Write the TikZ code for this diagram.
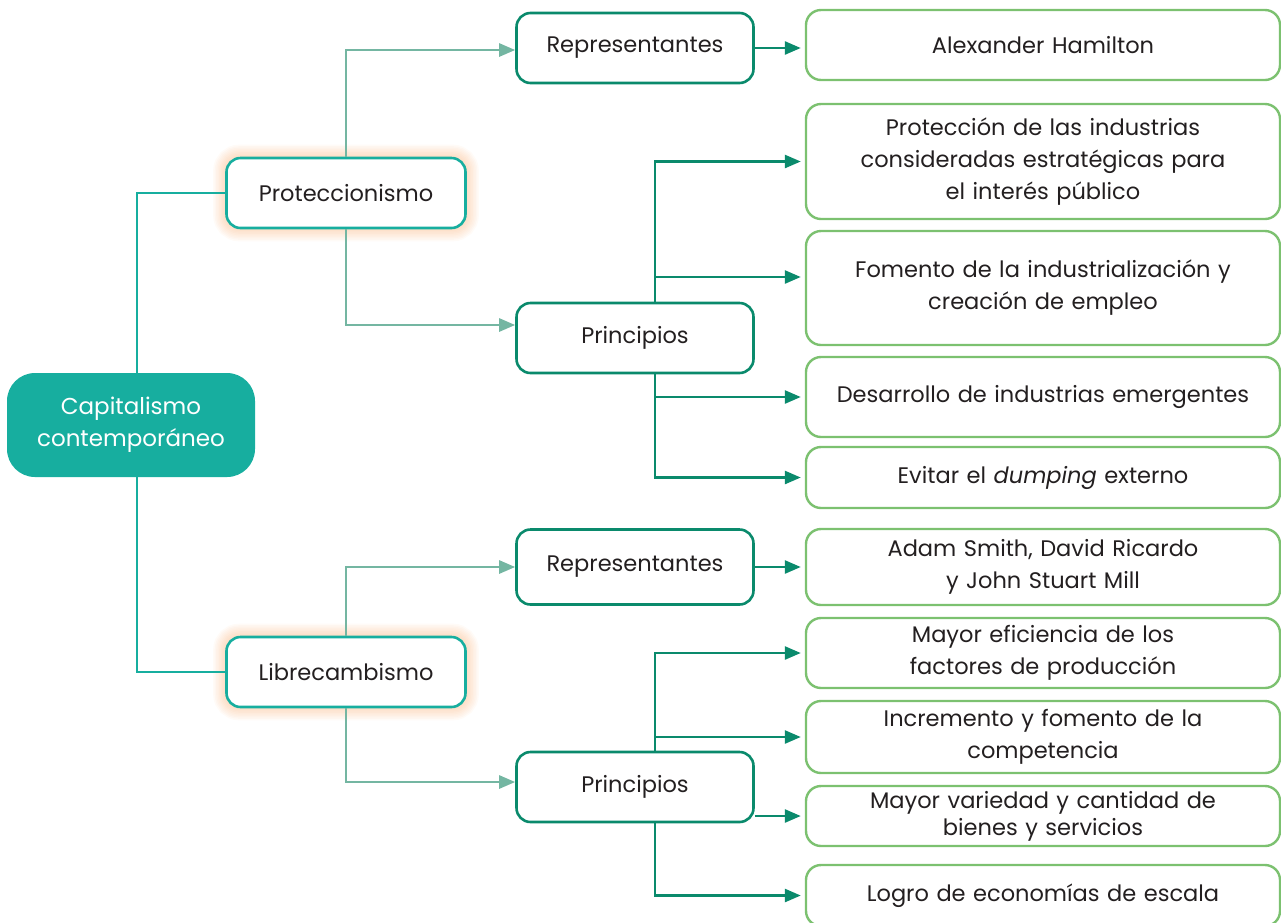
\documentclass[tikz,border=0pt]{standalone}
\usepackage{fontspec}
\setmainfont{Poppins}
\usetikzlibrary{arrows.meta,positioning}
\definecolor{CCTeal}{HTML}{17AE9F}
\definecolor{CCDark}{HTML}{0A8A6C}
\definecolor{CCSoft}{HTML}{74B6A2}
\definecolor{CCLeaf}{HTML}{7CC170}
\definecolor{CCGlow}{HTML}{F9A868}
\definecolor{CCInk}{HTML}{231F20}
\pgfdeclarelayer{background}
\pgfsetlayers{background,main}
\tikzset{
  textfont/.style={font=\fontsize{22.5}{32}\selectfont, text=CCInk},
  rootbox/.style={fill=CCTeal, rounded corners=28pt, minimum width=248pt,
    minimum height=104pt, text=white, align=center,
    font=\fontsize{23}{32}\selectfont},
  ideabox/.style={textfont, draw=CCTeal, fill=white, line width=2.6pt,
    rounded corners=14pt, minimum width=239pt, minimum height=70pt},
  partbox/.style={textfont, draw=CCDark, fill=white, line width=2.6pt,
    rounded corners=14pt, minimum width=237pt, minimum height=70pt},
  leafbox/.style={textfont, draw=CCLeaf, fill=white, line width=2.4pt,
    rounded corners=15pt, minimum width=474pt, text width=450pt, align=center},
  trunk/.style={CCTeal, line width=2.6pt},
  softarr/.style={CCSoft, line width=2.6pt, -{Triangle[length=16pt,width=13pt]}},
  darkarr/.style={CCDark, line width=2.6pt, shorten >=4pt,
    -{Triangle[length=16pt,width=13pt]}},
}
\newcommand{\leaf}[4]{%
  \node[leafbox, minimum height=#3] (#1) at (1043,#2) {#4};
}

\begin{document}
\begin{tikzpicture}[x=1pt,y=-1pt]
  \useasboundingbox (0,0) rectangle (1281,922);

  % centre column
  \node[rootbox] (root) at (131,425) {Capitalismo\\contemporáneo};
  \node[ideabox] (protec) at (346,193) {Proteccionismo};
  \node[ideabox] (libre) at (346,672) {Librecambismo};
  \node[partbox] (repA) at (635,48) {Representantes};
  \node[partbox] (princA) at (635,338) {Principios};
  \node[partbox, minimum height=75pt] (repB) at (635,567) {Representantes};
  \node[partbox] (princB) at (635,787) {Principios};

  % right column
  \leaf{hamilton}{45}{70}{Alexander Hamilton}
  \leaf{estrat}{161.5}{115}{Protección de las industrias\\consideradas estratégicas para\\el interés público}
  \leaf{empleo}{288}{114}{Fomento de la industrialización y\\creación de empleo}
  \leaf{emerg}{397}{80}{Desarrollo de industrias emergentes}
  \leaf{dumping}{477.5}{61}{Evitar el \textit{dumping} externo}
  \leaf{smith}{567}{76}{Adam Smith, David Ricardo\\y John Stuart Mill}
  \leaf{eficien}{653}{70}{Mayor eficiencia de los\\factores de producción}
  \leaf{compet}{737}{72}{Incremento y fomento de la\\competencia}
  \leaf{bienes}{816}{60}{Mayor variedad y cantidad de\\[-5pt]bienes y servicios}
  \leaf{escala}{895.5}{61}{Logro de economías de escala}

  % glow
  \begin{pgfonlayer}{background}
    \foreach \n in {protec,libre}
      \foreach \w in {3,6,...,24}
        \draw[CCGlow, opacity=0.05, line width=\w pt, rounded corners=14pt]
          (\n.south west) rectangle (\n.north east);
  \end{pgfonlayer}

  % connectors
  \draw[trunk] ([xshift=6pt]root.north) |- (protec.west);
  \draw[trunk] ([xshift=6pt]root.south) |- (libre.west);
  \draw[softarr] (protec.north) |- ([yshift=-2pt]repA.west);
  \draw[softarr] (protec.south) |- ([yshift=13pt]princA.west);
  \draw[softarr] (libre.north) |- (repB.west);
  \draw[softarr] (libre.south) |- ([yshift=5pt]princB.west);
  \draw[darkarr] (repA.east) -- (repA.east -| hamilton.west);
  \draw[darkarr] (repB.east) -- (repB.east -| smith.west);
  \draw[darkarr] ([xshift=20pt]princA.north) |- (estrat.west);
  \draw[darkarr] ([xshift=20pt]princA.north) |- ([yshift=11pt]empleo.west);
  \draw[darkarr] ([xshift=20pt]princA.south) |- (emerg.west);
  \draw[darkarr] ([xshift=20pt]princA.south) |- (dumping.west);
  \draw[darkarr] ([xshift=20pt]princB.north) |- (eficien.west);
  \draw[darkarr] ([xshift=20pt]princB.north) |- (compet.west);
  \draw[darkarr] (princB.east |- bienes.west) -- (bienes.west);
  \draw[darkarr] ([xshift=20pt]princB.south) |- (escala.west);
\end{tikzpicture}
\end{document}
